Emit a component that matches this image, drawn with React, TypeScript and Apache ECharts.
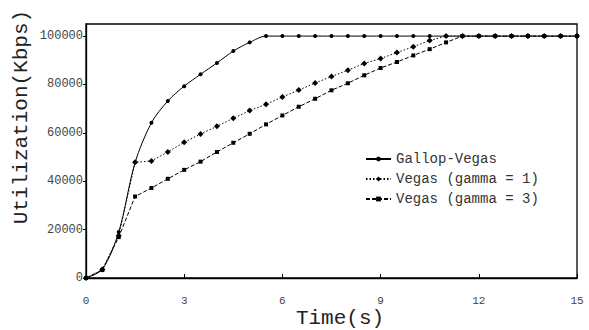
import React, { useEffect, useRef } from "react";
import * as echarts from "echarts";

// Time axis samples (s)
const times = [
  0, 0.5, 1, 1.5, 2, 2.5, 3, 3.5, 4, 4.5, 5, 5.5, 6, 6.5, 7, 7.5, 8, 8.5, 9, 9.5,
  10, 10.5, 11, 11.5, 12, 12.5, 13, 13.5, 14, 14.5, 15,
];

// Utilization (Kbps) per scheme
const gallopVegas = [
  0, 3600, 19000, 47800, 64200, 73200, 79300, 84200, 88900, 93800, 97400, 100000,
  100000, 100000, 100000, 100000, 100000, 100000, 100000, 100000, 100000, 100000,
  100000, 100000, 100000, 100000, 100000, 100000, 100000, 100000, 100000,
];
const vegasGamma1 = [
  0, 3500, 17500, 47800, 48400, 52100, 56100, 59500, 62700, 66000, 69200, 71800,
  74800, 77700, 80600, 83300, 85900, 88700, 90700, 93200, 95600, 98200, 100000,
  100000, 100000, 100000, 100000, 100000, 100000, 100000, 100000,
];
const vegasGamma3 = [
  0, 3300, 16900, 33700, 37200, 41000, 44700, 48100, 52100, 55900, 59600, 63500,
  67200, 70800, 74100, 77600, 80500, 83800, 86800, 89300, 92000, 94600, 97400,
  100000, 100000, 100000, 100000, 100000, 100000, 100000, 100000,
];

const seriesNames = ["Gallop-Vegas", "Vegas (gamma = 1)", "Vegas (gamma = 3)"];
const xTitle = "Time(s)";
const yTitle = "Utilization(Kbps)";

const FONT = "Liberation Mono";

const pairs = (ys: number[]) => times.map((t, i) => [t, ys[i]]);

export default function App() {
  const ref = useRef<HTMLDivElement>(null);

  useEffect(() => {
    if (!ref.current) return;
    const chart = echarts.init(ref.current, undefined, { renderer: "svg" });
    chart.setOption({
      animation: false,
      backgroundColor: "#fff",
      grid: {
        left: 86,
        right: 12,
        top: 24,
        bottom: 52,
        show: true,
        borderColor: "#000",
        borderWidth: 1.3,
      },
      graphic: [
        {
          type: "text",
          x: 21,
          y: 117,
          rotation: Math.PI / 2,
          style: {
            text: yTitle,
            fontFamily: FONT,
            fontSize: 21,
            fill: "#222",
            align: "center",
            verticalAlign: "middle",
          },
        },
        {
          type: "text",
          x: 340,
          y: 318,
          style: {
            text: xTitle,
            fontFamily: FONT,
            fontSize: 21,
            fill: "#222",
            align: "center",
            verticalAlign: "middle",
          },
        },
      ],
      legend: {
        left: 360,
        top: 146,
        orient: "vertical",
        itemWidth: 25,
        itemHeight: 6,
        itemGap: 4,
        data: seriesNames,
        textStyle: { fontFamily: FONT, fontSize: 14, color: "#333", lineHeight: 16 },
      },
      xAxis: {
        type: "value",
        min: 0,
        max: 15,
        interval: 3,
        axisLine: { lineStyle: { color: "#000", width: 1.3 } },
        axisTick: { inside: true, length: 4, lineStyle: { color: "#000" } },
        axisLabel: { margin: 17, fontFamily: FONT, fontSize: 11, color: "#444" },
        splitLine: { show: false },
      },
      yAxis: {
        type: "value",
        min: 0,
        max: 105000,
        interval: 20000,
        axisLine: { show: true, lineStyle: { color: "#000", width: 1.3 } },
        axisTick: { show: true, length: 3, lineStyle: { color: "#000" } },
        axisLabel: {
          margin: 3,
          fontFamily: FONT,
          fontSize: 12,
          color: "#444",
          showMaxLabel: false,
          formatter: (v: number) => String(v),
        },
        splitLine: { show: false },
      },
      series: [
        {
          name: seriesNames[0],
          type: "line",
          data: pairs(gallopVegas),
          smooth: 0.3,
          symbol: "circle",
          symbolSize: 4,
          itemStyle: { color: "#000" },
          lineStyle: { color: "#000", width: 1, type: "solid" },
        },
        {
          name: seriesNames[1],
          type: "line",
          data: pairs(vegasGamma1),
          symbol: "diamond",
          symbolSize: 6,
          itemStyle: { color: "#000" },
          lineStyle: { color: "#000", width: 1, type: [1.5, 2] },
        },
        {
          name: seriesNames[2],
          type: "line",
          data: pairs(vegasGamma3),
          symbol: "rect",
          symbolSize: 4,
          itemStyle: { color: "#000" },
          lineStyle: { color: "#000", width: 1, type: [4, 2] },
        },
      ],
    });
    return () => chart.dispose();
  }, []);

  return <div ref={ref} style={{ width: 589, height: 330, position: "absolute", left: 0, top: 0 }} />;
}
